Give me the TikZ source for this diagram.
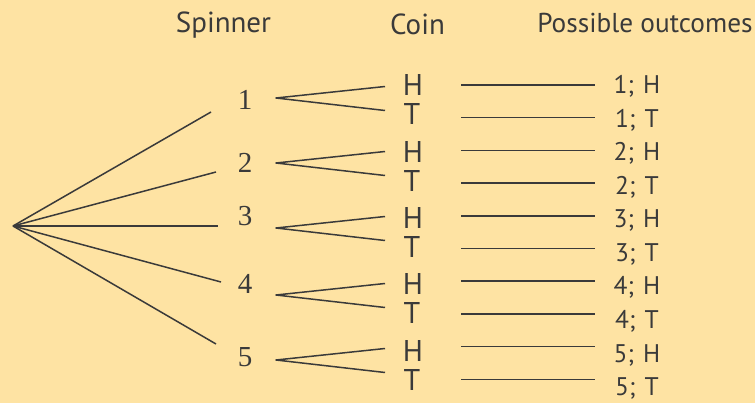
\documentclass[tikz,border=0pt]{standalone}
\usepackage{fontspec}
\setmainfont{PT Sans}
\newfontfamily\spindigits{Liberation Serif}
\definecolor{treebg}{RGB}{254,227,163}
\definecolor{treeink}{RGB}{58,58,58}
\tikzset{head/.style={font=\fontsize{29}{32}\selectfont,text=treeink,inner sep=0pt,anchor=base},
  outhead/.style={font=\fontsize{27.3}{29}\selectfont,text=treeink,inner sep=0pt,anchor=base},
  spin/.style={font=\spindigits\fontsize{29}{32}\selectfont,text=treeink,inner sep=0pt,anchor=base},
  coin/.style={font=\fontsize{30}{32}\selectfont,text=treeink,inner sep=0pt,anchor=base},
  outcome/.style={font=\fontsize{25.5}{28}\selectfont,text=treeink,inner sep=0pt,anchor=base},
  branch/.style={line width=1.5pt,treeink,line join=round}}

\begin{document}
\begin{tikzpicture}[x=1pt,y=-1pt]
\fill[treebg] (0,0) rectangle (755,403);
\useasboundingbox (0,0) rectangle (755,403);
% column headings
\node[head] (spinner) at (223.5,33) {Spinner};
\node[head] (coin) at (417.5,35) {Coin};
\node[outhead] (outcomes) at (645,33) {Possible outcomes};
% spinner branches
\coordinate (root) at (13,226);
\foreach \i/\sy/\ex/\ey/\fy in {1/110/211/112/98,2/173/216/172/163,3/226/218/226/228,4/294/221/282/295,5/366/216/344/360}{
  \node[spin] (s\i) at (245,\sy) {\i};
  \coordinate (e\i) at (\ex,\ey);
  \coordinate (f\i) at (276,\fy);
  \coordinate (fh\i) at (385,\fy-11.5);
  \coordinate (ft\i) at (385,\fy+12.5);
  \draw[branch] (root) -- (e\i);
  \draw[branch] (fh\i) -- (f\i) -- (ft\i);
  \node[coin] (h\i) at (413,{96+66.25*(\i-1)}) {H};
  \node[coin] (t\i) at (412,{125+66.25*(\i-1)}) {T};
}
% outcomes
\foreach \k/\n/\c in {0/1/H,1/1/T,2/2/H,3/2/T,4/3/H,5/3/T,6/4/H,7/4/T,8/5/H,9/5/T}{
  \coordinate (ol\k) at (461,{85+32.7*\k});
  \coordinate (or\k) at (595,{85+32.7*\k});
  \draw[branch] (ol\k) -- (or\k);
  \node[outcome] (o\k) at (637,{94+33.5*\k}) {\n;\hspace{9pt}\c};
}
\end{tikzpicture}
\end{document}
